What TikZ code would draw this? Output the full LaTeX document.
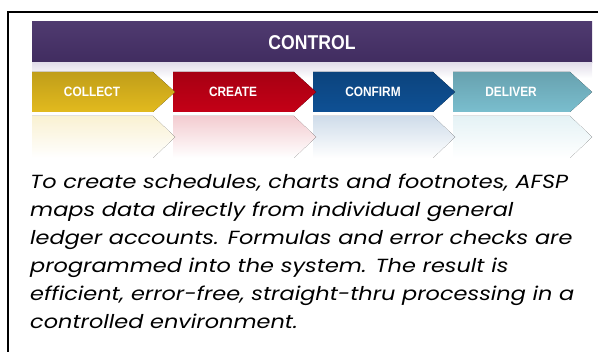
\documentclass[tikz,border=0pt]{standalone}
\usepackage{fontspec}
\setmainfont{Poppins}[FakeStretch=1.18]
\newfontfamily\rotulo[FakeStretch=0.88]{Liberation Sans}
\definecolor{morado}{RGB}{70,48,104}
\definecolor{lavanda}{RGB}{226,222,234}
\definecolor{amarillo}{RGB}{226,186,30}
\definecolor{rojo}{RGB}{196,0,22}
\definecolor{azul}{RGB}{14,80,148}
\definecolor{celeste}{RGB}{122,190,206}
\tikzset{
  paso/.style={top color=#1!85!black, bottom color=#1, draw=none},
  reflejo/.style={top color=#1!20!white, bottom color=white, draw=none},
  etiqueta/.style={text=white, font=\rotulo\bfseries\fontsize{13.5}{13.5}\selectfont},
}
\begin{document}
\begin{tikzpicture}[x=1pt,y=-1pt]
            \useasboundingbox (0,0) rectangle (601,352);
            % Marco
            \draw[line width=2pt] (598,12) -- (8,12) -- (8,352);
            % Banda CONTROL
            \fill[top color=morado!95!white, bottom color=morado!92!black] (32,22) rectangle (592,63);
            \node[text=white, font=\rotulo\bfseries\fontsize{20}{20}\selectfont] (control) at (312,42.5) {CONTROL};
            % Franja lavanda
            \fill[top color=lavanda, bottom color=white] (32,63) rectangle (592,78);

            % DELIVER
            \fill[reflejo=celeste] (453,116) -- (570,116) -- (592,137) -- (570,158) -- (453,158) -- cycle;
            \fill[paso=celeste] (453,72) -- (570,72) -- (592,92) -- (570,112) -- (453,112) -- cycle;
            \node[etiqueta] (deliver) at (511,92) {DELIVER};
            % CONFIRM
            \fill[reflejo=azul] (313,116) -- (433,116) -- (455,137) -- (433,158) -- (313,158) -- cycle;
            \fill[paso=azul] (313,72) -- (433,72) -- (455,92) -- (433,112) -- (313,112) -- cycle;
            \node[etiqueta] (confirm) at (373,92) {CONFIRM};
            % CREATE
            \fill[reflejo=rojo] (173,116) -- (294,116) -- (316,137) -- (294,158) -- (173,158) -- cycle;
            \fill[paso=rojo] (173,72) -- (294,72) -- (316,92) -- (294,112) -- (173,112) -- cycle;
            \node[etiqueta] (create) at (233,92) {CREATE};
            % COLLECT
            \fill[reflejo=amarillo] (32,116) -- (153,116) -- (175,137) -- (153,158) -- (32,158) -- cycle;
            \fill[paso=amarillo] (32,72) -- (153,72) -- (175,92) -- (153,112) -- (32,112) -- cycle;
            \node[etiqueta] (collect) at (92,92) {COLLECT};

            % Texto
            \node[anchor=base west, align=left, inner sep=0pt,
                  font=\itshape\fontsize{19}{28}\selectfont] (texto) at (30,328)
            {To create schedules, charts and footnotes, AFSP\\
             maps data directly from individual general\\
             ledger accounts. Formulas and error checks are\\
             programmed into the system. The result is\\
             efficient, error-free, straight-thru processing in a\\
             controlled environment.};
\end{tikzpicture}
\end{document}
